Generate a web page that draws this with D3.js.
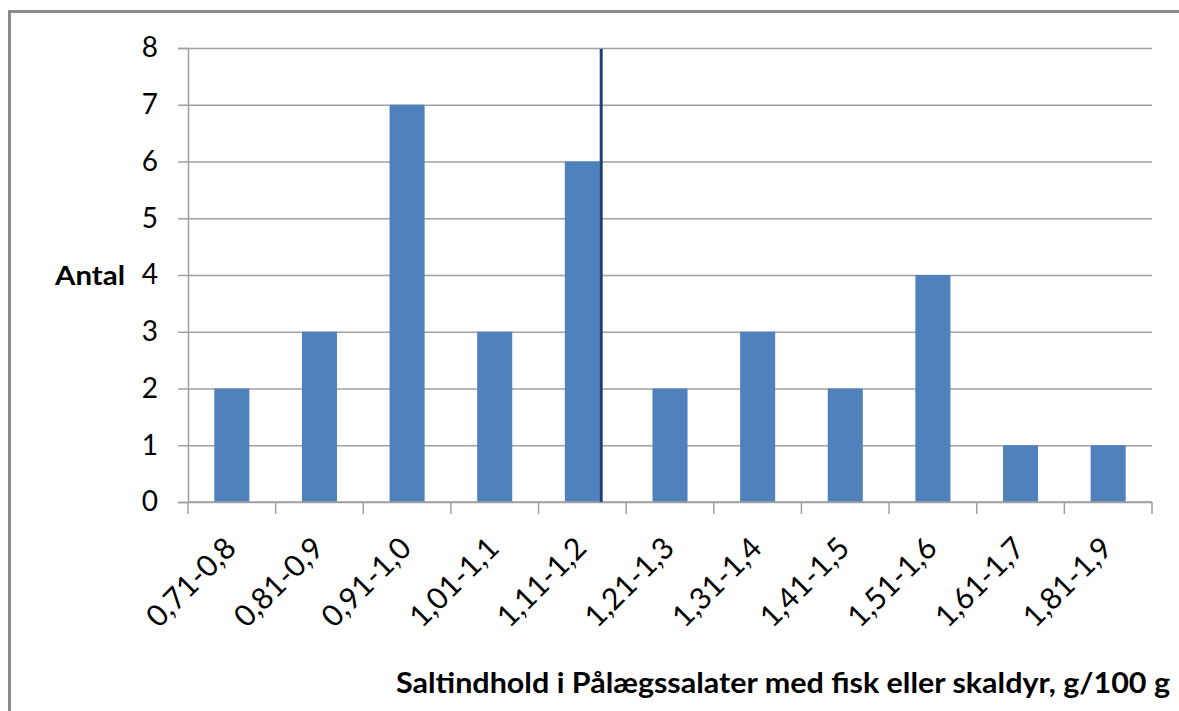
<!DOCTYPE html>
<html>
<head>
<meta charset="utf-8">
<script src="https://cdn.jsdelivr.net/npm/d3@7"></script>
<style>
  html, body { margin: 0; padding: 0; background: #fff; }
  svg { display: block; }
  text { font-family: Lato, "Open Sans", sans-serif; fill: #000; }
</style>
</head>
<body>
<svg width="1179" height="711"></svg>
<script>
// Data

const categories = ["0,71-0,8", "0,81-0,9", "0,91-1,0", "1,01-1,1", "1,11-1,2", "1,21-1,3",
                    "1,31-1,4", "1,41-1,5", "1,51-1,6", "1,61-1,7", "1,81-1,9"];
const counts = [2, 3, 7, 3, 6, 2, 3, 2, 4, 1, 1];
const yTicks = [0, 1, 2, 3, 4, 5, 6, 7, 8];
// reference line: sits inside the "1,11-1,2" band, at this fraction of the band
const markerCategory = "1,11-1,2";
const markerFraction = 0.715;
const markerTop = 8;

const yTitle = "Antal";
const xTitle = "Saltindhold i Pålægssalater med fisk eller skaldyr, g/100 g";

// Layout

const plotLeft = 188, plotRight = 1152, plotTop = 48, plotBottom = 502;

const svg = d3.select("svg");

// frame (only top and left edges are visible in the crop)
svg.append("path")
    .attr("d", "M9.5,711 V11.5 H1179")
    .attr("fill", "none")
    .attr("stroke", "#8c8c8c")
    .attr("stroke-width", 3);

const x = d3.scaleBand()
    .domain(categories)
    .range([plotLeft, plotRight])
    .paddingInner(0.6)
    .paddingOuter(0.3);

const xb = d3.scaleBand()
    .domain(categories)
    .range([plotLeft, plotRight]);

const y = d3.scaleLinear()
    .domain([0, 8])
    .range([plotBottom, plotTop]);

// gridlines + y ticks
const yAxis = svg.append("g")
    .attr("transform", `translate(${plotLeft},0)`)
    .call(d3.axisLeft(y).tickValues(yTicks).tickSize(10).tickPadding(20).tickFormat(d3.format("d")));
yAxis.select(".domain").attr("stroke", "#a0a0a0").attr("stroke-width", 1.5);
yAxis.selectAll(".tick line").attr("stroke", "#a0a0a0").attr("stroke-width", 1.5)
    .attr("x1", plotRight - plotLeft);
yAxis.selectAll(".tick text")
    .style("font-size", "28px")
    .style("font-family", "Lato, 'Open Sans', sans-serif")
    .attr("fill", "#000");

// bars
svg.append("g").selectAll("rect")
    .data(counts)
    .enter().append("rect")
    .attr("x", (d, i) => x(categories[i]))
    .attr("y", d => y(d))
    .attr("width", x.bandwidth())
    .attr("height", d => y(0) - y(d))
    .attr("fill", "#4f81bd");

// x axis with ticks at band boundaries
const xAxisG = svg.append("g").attr("transform", `translate(0,${plotBottom})`);
xAxisG.append("line")
    .attr("x1", plotLeft).attr("x2", plotRight)
    .attr("stroke", "#a0a0a0").attr("stroke-width", 1.5);
const boundaries = categories.map(c => xb(c)).concat([plotRight]);
xAxisG.selectAll("line.tk")
    .data(boundaries)
    .enter().append("line")
    .attr("class", "tk")
    .attr("x1", d => d).attr("x2", d => d)
    .attr("y1", 0).attr("y2", 12)
    .attr("stroke", "#a0a0a0").attr("stroke-width", 1.5);

xAxisG.selectAll("text")
    .data(categories)
    .enter().append("text")
    .attr("transform", d => `translate(${xb(d) + xb.bandwidth() / 2 + 6},${48}) rotate(-45)`)
    .attr("text-anchor", "end")
    .style("font-size", "30px")
    .text(d => d);

// vertical reference line
const mx = xb(markerCategory) + xb.bandwidth() * markerFraction;
svg.append("line")
    .attr("x1", mx).attr("x2", mx)
    .attr("y1", y(markerTop) + 1).attr("y2", y(0))
    .attr("stroke", "#1f3f77")
    .attr("stroke-width", 3);

// titles
svg.append("text")
    .attr("x", 55).attr("y", 285)
    .attr("textLength", 70)
    .attr("lengthAdjust", "spacingAndGlyphs")
    .style("font-size", "26px")
    .style("font-weight", "bold")
    .text(yTitle);

svg.append("text")
    .attr("x", 396).attr("y", 693)
    .attr("textLength", 774)
    .attr("lengthAdjust", "spacingAndGlyphs")
    .style("font-size", "28px")
    .style("font-weight", "bold")
    .text(xTitle);
</script>
</body>
</html>
